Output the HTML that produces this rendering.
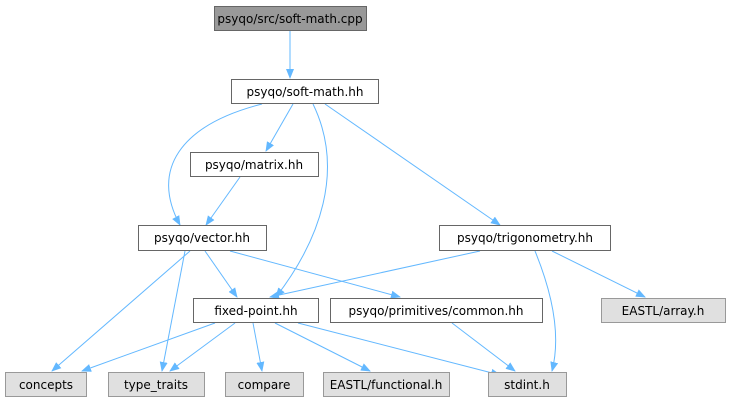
<!DOCTYPE html>
<html><head><meta charset="utf-8"><style>
html,body{margin:0;padding:0;background:#fff;}
svg{display:block;}
text{font-family:"DejaVu Sans","Liberation Sans",sans-serif;font-size:12px;fill:#000;}
</style></head><body>
<svg width="731" height="403" viewBox="0 0 731 403" xmlns="http://www.w3.org/2000/svg">
<defs><marker id="a" markerWidth="10" markerHeight="10" refX="9" refY="5" orient="auto" markerUnits="userSpaceOnUse"><path d="M0,1 L10,5 L0,9 z" fill="#63b8ff"/></marker></defs>
<g fill="none" stroke="#63b8ff" stroke-width="1" marker-end="url(#a)">
<path d="M290,31 L290,78"/>
<path d="M293,104 L266,151"/>
<path d="M262,104 C180,125 150,170 180,225"/>
<path d="M313,104 C345,170 320,240 276,297"/>
<path d="M325,104 L500,225"/>
<path d="M240,177 L206,225"/>
<path d="M190,251 L52,371"/>
<path d="M185,251 L162,371"/>
<path d="M205,251 L237,297"/>
<path d="M230,251 L400,297"/>
<path d="M480,251 L270,297"/>
<path d="M552,251 L645,297"/>
<path d="M535,251 C555,300 560,340 552,371"/>
<path d="M215,323 L82,371"/>
<path d="M235,323 L170,371"/>
<path d="M253,323 L262,371"/>
<path d="M275,323 L370,371"/>
<path d="M298,323 L500,375"/>
<path d="M452,323 L515,371"/>
</g>
<g stroke-width="1">
<rect x="214.5" y="6.5" width="152" height="24" fill="#999" stroke="#666"/>
<rect x="231.5" y="79.5" width="147" height="24" fill="#fff" stroke="#666"/>
<rect x="190.5" y="152.5" width="128" height="24" fill="#fff" stroke="#666"/>
<rect x="138.5" y="225.5" width="128" height="25" fill="#fff" stroke="#666"/>
<rect x="439.5" y="225.5" width="171" height="25" fill="#fff" stroke="#666"/>
<rect x="193.5" y="298.5" width="125" height="24" fill="#fff" stroke="#666"/>
<rect x="330.5" y="298.5" width="212" height="24" fill="#fff" stroke="#666"/>
<rect x="601.5" y="298.5" width="124" height="24" fill="#e0e0e0" stroke="#999"/>
<rect x="5.5" y="372.5" width="81" height="24" fill="#e0e0e0" stroke="#999"/>
<rect x="108.5" y="372.5" width="96" height="24" fill="#e0e0e0" stroke="#999"/>
<rect x="225.5" y="372.5" width="78" height="24" fill="#e0e0e0" stroke="#999"/>
<rect x="323.5" y="372.5" width="126" height="24" fill="#e0e0e0" stroke="#999"/>
<rect x="488.5" y="372.5" width="78" height="24" fill="#e0e0e0" stroke="#999"/>
</g>
<g text-anchor="middle">
<text x="290" y="23">psyqo/src/soft-math.cpp</text>
<text x="305" y="96">psyqo/soft-math.hh</text>
<text x="254" y="169">psyqo/matrix.hh</text>
<text x="202" y="242">psyqo/vector.hh</text>
<text x="525" y="242">psyqo/trigonometry.hh</text>
<text x="256" y="315">fixed-point.hh</text>
<text x="436" y="315">psyqo/primitives/common.hh</text>
<text x="663" y="315">EASTL/array.h</text>
<text x="46" y="389">concepts</text>
<text x="156" y="389">type_traits</text>
<text x="264" y="389">compare</text>
<text x="386" y="389">EASTL/functional.h</text>
<text x="527" y="389">stdint.h</text>
</g>
</svg>
</body></html>
